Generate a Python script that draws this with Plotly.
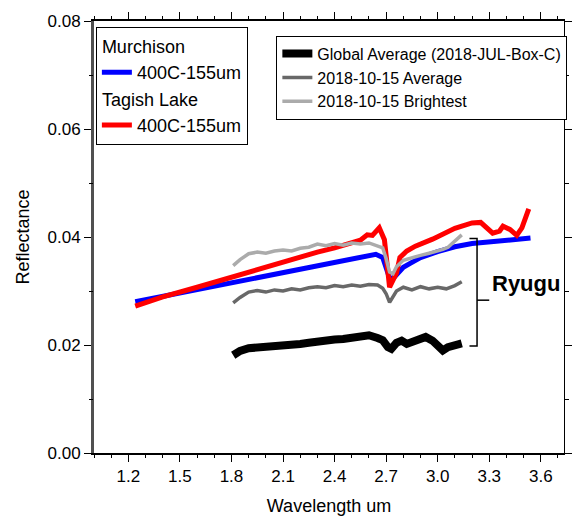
import plotly.graph_objects as go

# ---------------- data ----------------
murchison_x = [1.24, 1.40, 1.60, 1.80, 2.00, 2.20, 2.40, 2.55, 2.64, 2.68, 2.70, 2.72, 2.74,
               2.77, 2.80, 2.85, 2.90, 3.00, 3.10, 3.20, 3.30, 3.40, 3.50, 3.54]
murchison_y = [0.0280, 0.0290, 0.0303, 0.0316, 0.0329, 0.0342, 0.0354, 0.0363, 0.0368, 0.0362,
               0.0342, 0.0324, 0.0323, 0.0334, 0.0344, 0.0353, 0.0362, 0.0373, 0.0382, 0.0388,
               0.0391, 0.0393, 0.0396, 0.0398]

tagish_x = [1.24, 1.40, 1.60, 1.80, 2.00, 2.20, 2.30, 2.40, 2.49, 2.55, 2.59, 2.62, 2.66, 2.69,
            2.72, 2.74, 2.76, 2.78, 2.82, 2.87, 2.97, 3.10, 3.20, 3.25, 3.29, 3.32, 3.36,
            3.38, 3.42, 3.46, 3.49, 3.53]
tagish_y = [0.0272, 0.0289, 0.0307, 0.0326, 0.0345, 0.0363, 0.0372, 0.0380, 0.0387, 0.0394,
            0.0404, 0.0403, 0.0417, 0.0395, 0.0307, 0.0320, 0.0333, 0.0362, 0.0374, 0.0383,
            0.0396, 0.0416, 0.0426, 0.0427, 0.0414, 0.0407, 0.0411, 0.0420, 0.0414, 0.0403,
            0.0417, 0.0452]

bright_x = [1.81, 1.85, 1.90, 1.95, 2.00, 2.05, 2.10, 2.15, 2.20, 2.25, 2.30, 2.35, 2.40, 2.45,
            2.50, 2.55, 2.60, 2.65, 2.68, 2.70, 2.72, 2.74, 2.76, 2.80, 2.85, 2.90, 2.95,
            3.00, 3.03, 3.06, 3.10, 3.14]
bright_y = [0.0347, 0.0358, 0.0369, 0.0372, 0.0370, 0.0374, 0.0376, 0.0374, 0.0379, 0.0381,
            0.0387, 0.0384, 0.0388, 0.0385, 0.0389, 0.0387, 0.0389, 0.0384, 0.0380, 0.0360,
            0.0335, 0.0332, 0.0345, 0.0357, 0.0362, 0.0366, 0.0370, 0.0374, 0.0377, 0.0381,
            0.0392, 0.0404]

avg_x = [1.81, 1.85, 1.90, 1.95, 2.00, 2.05, 2.10, 2.15, 2.20, 2.25, 2.30, 2.35, 2.40, 2.45,
         2.50, 2.55, 2.60, 2.65, 2.68, 2.70, 2.72, 2.74, 2.76, 2.80, 2.85, 2.90, 2.95, 3.00,
         3.05, 3.10, 3.14]
avg_y = [0.0278, 0.0288, 0.0298, 0.0301, 0.0298, 0.0302, 0.0300, 0.0304, 0.0302, 0.0306,
         0.0308, 0.0306, 0.0310, 0.0308, 0.0311, 0.0309, 0.0312, 0.0311, 0.0305, 0.0295,
         0.0279, 0.0290, 0.0300, 0.0307, 0.0302, 0.0308, 0.0304, 0.0307, 0.0304, 0.0310,
         0.0317]

global_x = [1.81, 1.85, 1.90, 1.95, 2.00, 2.05, 2.10, 2.15, 2.20, 2.25, 2.30, 2.35, 2.40, 2.45,
            2.50, 2.55, 2.60, 2.65, 2.68, 2.71, 2.73, 2.76, 2.79, 2.82, 2.85, 2.90, 2.93,
            2.97, 3.00, 3.03, 3.06, 3.09, 3.12, 3.14]
global_y = [0.0181, 0.0189, 0.0194, 0.0195, 0.0197, 0.0196, 0.0199, 0.0200, 0.0202, 0.0204,
            0.0207, 0.0208, 0.0210, 0.0211, 0.0213, 0.0216, 0.0218, 0.0213, 0.0209, 0.0196,
            0.0193, 0.0204, 0.0208, 0.0202, 0.0206, 0.0213, 0.0215, 0.0208, 0.0197, 0.0190,
            0.0196, 0.0198, 0.0201, 0.0203]

x_ticks = [1.2, 1.5, 1.8, 2.1, 2.4, 2.7, 3.0, 3.3, 3.6]
x_tick_labels = ["1.2", "1.5", "1.8", "2.1", "2.4", "2.7", "3.0", "3.3", "3.6"]
x_minor_ticks = [1.0, 1.1, 1.3, 1.4, 1.6, 1.7, 1.9, 2.0, 2.2, 2.3, 2.5, 2.6, 2.8, 2.9,
                 3.1, 3.2, 3.4, 3.5, 3.7]
y_ticks = [0.00, 0.02, 0.04, 0.06, 0.08]
y_tick_labels = ["0.00", "0.02", "0.04", "0.06", "0.08"]
y_minor_ticks = [0.01, 0.03, 0.05, 0.07]

ryugu_label = "Ryugu"
ryugu_bracket_x = [3.185, 3.229, 3.30]       # tick end, spine, label tick end
ryugu_bracket_y = [0.0198, 0.0283, 0.0397]   # bottom, middle, top
ryugu_label_y = 0.0313

X_RANGE = [1.0, 3.735]
Y_RANGE = [0.0, 0.08]
FONT = "Arial, Liberation Sans, sans-serif"

fig = go.Figure()

fig.add_trace(go.Scatter(x=murchison_x, y=murchison_y, mode="lines", name="400C-155um",
                         line=dict(color="#0000ff", width=5), legend="legend",
                         legendgroup="murch", legendgrouptitle=dict(text="Murchison", font=dict(size=18, color="black"))))
fig.add_trace(go.Scatter(x=tagish_x, y=tagish_y, mode="lines", name="400C-155um",
                         line=dict(color="#ff0000", width=5), legend="legend",
                         legendgroup="tagish", legendgrouptitle=dict(text="Tagish Lake", font=dict(size=18, color="black"))))
fig.add_trace(go.Scatter(x=global_x, y=global_y, mode="lines", name="Global Average (2018-JUL-Box-C)",
                         line=dict(color="#000000", width=8), legend="legend2"))
fig.add_trace(go.Scatter(x=avg_x, y=avg_y, mode="lines", name="2018-10-15 Average",
                         line=dict(color="#686868", width=3.5), legend="legend2"))
fig.add_trace(go.Scatter(x=bright_x, y=bright_y, mode="lines", name="2018-10-15 Brightest",
                         line=dict(color="#ababab", width=3.5), legend="legend2"))

# invisible traces that activate the extra (tick-only) axes
for xa, ya in [("x", "y2"), ("x2", "y"), ("x3", "y"), ("x", "y3"), ("x", "y4")]:
    fig.add_trace(go.Scatter(x=[None], y=[None], xaxis=xa, yaxis=ya,
                             showlegend=False, hoverinfo="skip"))

bx0, bx1, bx2 = ryugu_bracket_x
by0, by1, by2 = ryugu_bracket_y
fig.add_shape(type="path", xref="x", yref="y",
              path=f"M {bx0},{by2} L {bx1},{by2} L {bx1},{by0} L {bx0},{by0}",
              line=dict(color="black", width=1.5))
fig.add_shape(type="line", xref="x", yref="y", x0=bx1, x1=bx2, y0=by1, y1=by1,
              line=dict(color="black", width=1.5))
fig.add_annotation(x=bx2, y=ryugu_label_y, xref="x", yref="y", text=f"<b>{ryugu_label}</b>",
                   showarrow=False, xanchor="left", yanchor="middle", xshift=1,
                   font=dict(size=22, color="black", family=FONT))

tickfont = dict(size=17, color="black", family=FONT)


def minor_x(side):
    return dict(overlaying="x", matches="x", anchor="y", side=side, range=X_RANGE,
                tickmode="array", tickvals=x_minor_ticks, ticks="outside", ticklen=4,
                tickwidth=1, tickcolor="black", showticklabels=False, showline=False,
                showgrid=False, zeroline=False)


def minor_y(side):
    return dict(overlaying="y", matches="y", anchor="x", side=side, range=Y_RANGE,
                tickmode="array", tickvals=y_minor_ticks, ticks="outside", ticklen=4,
                tickwidth=1, tickcolor="black", showticklabels=False, showline=False,
                showgrid=False, zeroline=False)


fig.update_layout(
    width=575, height=517,
    margin=dict(l=94, r=4, t=21, b=63),
    plot_bgcolor="white", paper_bgcolor="white",
    font=dict(family=FONT, color="black"),
    showlegend=True,
    xaxis=dict(range=X_RANGE, tickmode="array", tickvals=x_ticks, ticktext=x_tick_labels,
               ticks="outside", ticklen=7, tickwidth=1, tickcolor="black",
               showline=True, linecolor="black", linewidth=2, mirror="ticks",
               showgrid=False, zeroline=False, tickfont=tickfont,
               title=dict(text="Wavelength um", font=dict(size=18, family=FONT), standoff=14)),
    xaxis2=minor_x("bottom"),
    xaxis3=minor_x("top"),
    yaxis=dict(range=Y_RANGE, tickmode="array", tickvals=y_ticks, ticktext=y_tick_labels,
               ticks="outside", ticklen=7, tickwidth=1, tickcolor="black",
               showline=True, linecolor="#505050", linewidth=3,
               showgrid=False, zeroline=False, tickfont=tickfont,
               title=dict(text="Reflectance", font=dict(size=18, family=FONT), standoff=14)),
    yaxis2=dict(overlaying="y", side="right", matches="y", anchor="x", range=Y_RANGE,
                tickmode="array", tickvals=y_ticks,
                showticklabels=False, ticks="outside", ticklen=7, tickcolor="black",
                showline=True, linecolor="black", linewidth=1, showgrid=False, zeroline=False),
    yaxis3=minor_y("left"),
    yaxis4=minor_y("right"),
    legend=dict(x=0.004, y=0.987, xanchor="left", yanchor="top",
                bgcolor="white", bordercolor="black", borderwidth=1,
                font=dict(size=18, family=FONT, color="black"), tracegroupgap=0,
                itemclick=False),
    legend2=dict(x=0.388, y=0.966, xanchor="left", yanchor="top",
                 bgcolor="white", bordercolor="black", borderwidth=1,
                 font=dict(size=16, family=FONT, color="black"), tracegroupgap=0),
)

fig.write_html("out.html", config={"displayModeBar": False},
               post_script="document.body.style.margin='0';")
